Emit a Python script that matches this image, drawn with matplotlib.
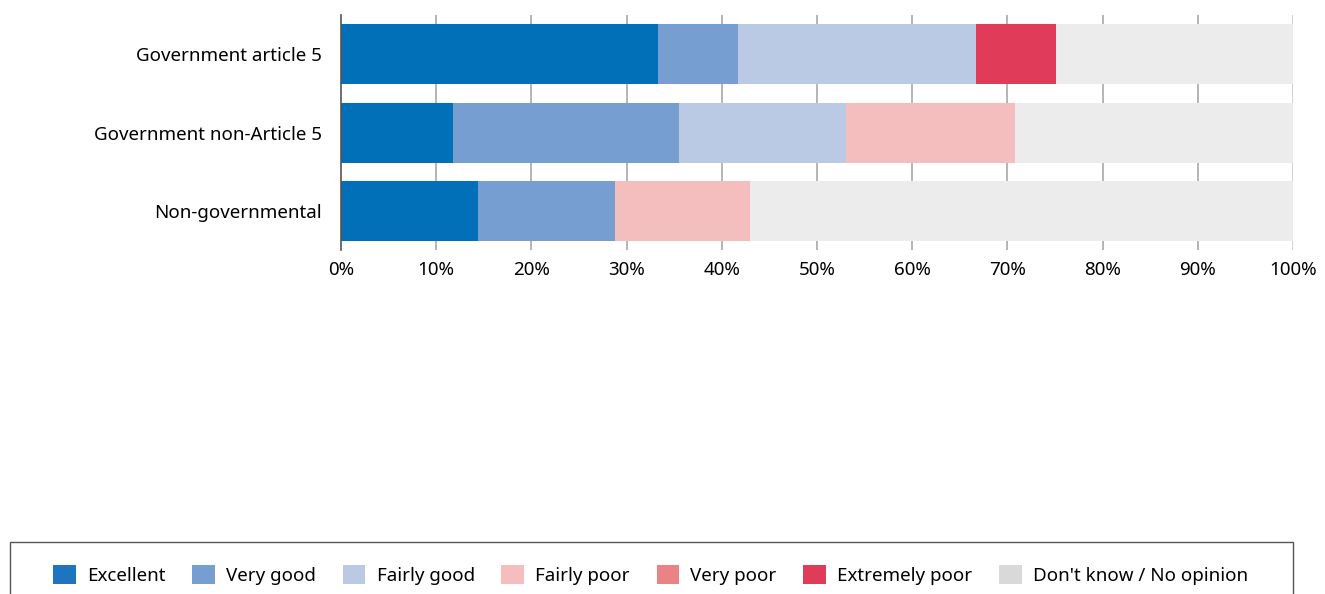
import numpy as np
import matplotlib.pyplot as plt
from matplotlib.patches import Rectangle, Patch

plt.rcParams['font.family'] = ['Noto Sans', 'DejaVu Sans']

# Dados (%)
categorias = ['Government article 5', 'Government non-Article 5', 'Non-governmental']
respostas = ['Excellent', 'Very good', 'Fairly good', 'Fairly poor',
             'Very poor', 'Extremely poor', "Don't know / No opinion"]
excellent = [33.3, 11.8, 14.4]
very_good = [8.4, 23.7, 14.4]
fairly_good = [25.0, 17.5, 0.0]
fairly_poor = [0.0, 17.8, 14.2]
very_poor = [0.0, 0.0, 0.0]
extremely_poor = [8.4, 0.0, 0.0]
dont_know = [24.9, 29.2, 57.0]
ticks_x = [0, 10, 20, 30, 40, 50, 60, 70, 80, 90, 100]

series = [excellent, very_good, fairly_good, fairly_poor, very_poor, extremely_poor, dont_know]
cores = ['#0270b8', '#779ed0', '#bacae4', '#f4bebe', '#e98385', '#e03b59', '#ececec']
cores_leg = ['#1f74be', '#779ed0', '#bacae4', '#f4bebe', '#e98385', '#e03b59', '#d9d9d9']

fig = plt.figure(figsize=(13.25, 5.94), dpi=100)
ax = fig.add_axes([0.2574, 0.579, 0.7184, 0.3957])

y = np.arange(len(categorias))
esq = np.zeros(len(categorias))
for vals, cor in zip(series, cores):
    ax.barh(y, vals, left=esq, height=0.766, color=cor, zorder=2)
    esq += np.array(vals)

ax.set_xlim(0, 100)
ax.set_ylim(2.5, -0.5)
ax.set_yticks(y)
ax.set_yticklabels(categorias, fontsize=13.5)
ax.set_xticks(ticks_x)
ax.set_xticklabels([f'{t}%' for t in ticks_x], fontsize=13.5)
ax.tick_params(axis='both', length=0)
ax.tick_params(axis='y', pad=14)
ax.tick_params(axis='x', pad=8)

for t in ticks_x[1:-1]:
    ax.axvline(t, color='#a8a8a8', lw=1.2, zorder=1)
ax.axvline(100, color='#cccccc', lw=2, zorder=1)
for s in ['top', 'right', 'bottom']:
    ax.spines[s].set_visible(False)
ax.spines['left'].set_color('#555555')
ax.spines['left'].set_linewidth(1.2)

# Caixa da legenda
fig.patches.append(Rectangle((0.0075, -0.05), 0.968, 0.1375, transform=fig.transFigure,
                             fill=False, edgecolor='#555555', lw=1))
handles = [Patch(facecolor=c, edgecolor='none') for c in cores_leg]
fig.legend(handles, respostas, loc='center', bbox_to_anchor=(0.491, 0.032), ncol=7,
           frameon=False, fontsize=13.5, handlelength=1.2, handleheight=1.2,
           handletextpad=0.6, columnspacing=1.43)

fig.savefig('out.png', dpi=100)
